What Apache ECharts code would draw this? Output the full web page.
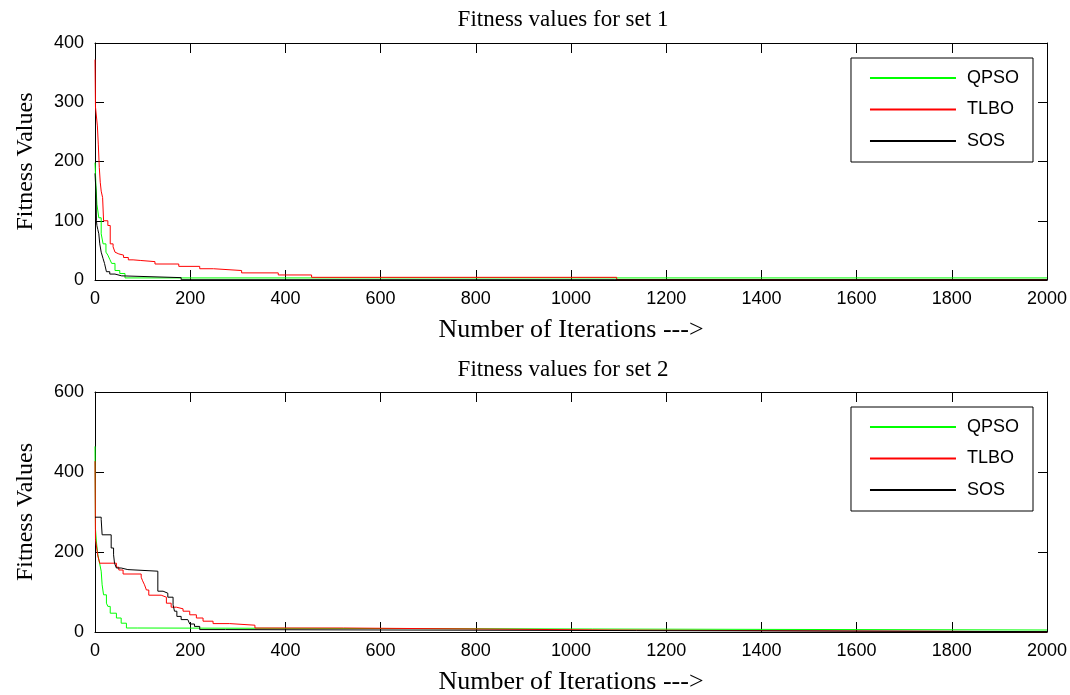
<!DOCTYPE html>
<html>
<head>
<meta charset="utf-8">
<script src="https://cdn.jsdelivr.net/npm/echarts@6/dist/echarts.min.js"></script>
<style>
html,body{margin:0;padding:0;background:#fff;}
#chart{width:1070px;height:695px;}
</style>
</head>
<body>
<div id="chart"></div>
<script>
// ---- data (iteration at which best value changes, new best value) ----
const seriesNames = ['QPSO', 'TLBO', 'SOS'];
const titles = ['Fitness values for set 1', 'Fitness values for set 2'];
const xTicks = [0, 200, 400, 600, 800, 1000, 1200, 1400, 1600, 1800, 2000];
const yTicksSet1 = [0, 100, 200, 300, 400];
const yTicksSet2 = [0, 200, 400, 600];

const qpso1 = [[0,198],[2,160],[4,128],[8,105],[13,78],[17,61],[23,47],[27,42],[31,35],[35,28],[42,16],[52,11],[63,3.5],[2000,3.5]];
const tlbo1 = [[0,372],[1,292],[5,260],[7,228],[9,190],[11,165],[13,150],[16,139],[18,100],[27,92],[32,61],[38,56],[42,47],[46,44],[50,42],[60,38],[70,34],[80,33],[95,31],[126,27],[176,23],[220,19],[249,16],[308,12],[385,8.5],[455,4.5],[1096,0.5],[2000,0.5]];
const sos1  = [[0,180],[2,150],[3,100],[4,92],[6,85],[8,78],[10,61],[13,47],[17,36],[20,28],[24,14],[31,10],[42,7],[56,4],[181,0.5],[2000,0.5]];

const qpso2 = [[0,464],[1,258],[3,225],[6,193],[10,170],[13,152],[15,118],[18,93],[24,72],[27,64],[32,47],[45,35],[55,22],[66,10],[90,5],[2000,5]];
const tlbo2 = [[0,427],[1,231],[3,215],[6,190],[10,172],[45,162],[50,155],[59,145],[97,137],[100,128],[104,118],[108,105],[113,92],[139,87],[150,72],[160,62],[171,58],[185,52],[199,43],[213,35],[227,27],[248,21],[283,17],[336,10],[522,5],[1086,0.5],[2000,0.5]];
const sos2  = [[0,287],[13,281],[15,243],[34,210],[39,193],[41,172],[45,160],[55,156],[69,152],[132,102],[143,97],[153,87],[164,68],[167,52],[172,39],[181,31],[195,27],[199,20],[209,14],[220,6],[274,1],[2000,1]];

const colors = ['#00ff00', '#ff0000', '#000000'];

const chart = echarts.init(document.getElementById('chart'), null, {renderer: 'canvas'});

const serif = '"Liberation Serif", "Times New Roman", serif';
const sans = '"Liberation Sans", Arial, sans-serif';

const grids = [
  {left: 95, right: 23, top: 43, height: 237, outerBoundsMode: 'none', containLabel: false},
  {left: 95, right: 23, top: 392, height: 240, outerBoundsMode: 'none', containLabel: false}
];

const plain = function (v) { return String(v); };

function xAxes(gi) {
  return [
    {
      type: 'value', gridIndex: gi, position: 'bottom',
      min: xTicks[0], max: xTicks[xTicks.length - 1], interval: xTicks[1] - xTicks[0],
      axisLine: {show: true, onZero: false, lineStyle: {color: '#000', width: 1}},
      axisTick: {show: true, inside: true, length: 10, lineStyle: {color: '#000'}},
      axisLabel: {color: '#000', fontFamily: sans, fontSize: 18, margin: 10, formatter: plain},
      splitLine: {show: false},
      name: 'Number of Iterations --->', nameLocation: 'middle', nameGap: 37,
      nameTextStyle: {color: '#000', fontFamily: serif, fontSize: 26}
    },
    {
      type: 'value', gridIndex: gi, position: 'top',
      min: xTicks[0], max: xTicks[xTicks.length - 1], interval: xTicks[1] - xTicks[0],
      axisLine: {show: true, onZero: false, lineStyle: {color: '#000', width: 1}},
      axisTick: {show: true, inside: true, length: 10, lineStyle: {color: '#000'}},
      axisLabel: {show: false}, splitLine: {show: false}
    }
  ];
}

function yAxes(gi, ticks) {
  const common = {
    type: 'value', gridIndex: gi,
    min: ticks[0], max: ticks[ticks.length - 1], interval: ticks[1] - ticks[0],
    axisLine: {show: true, onZero: false, lineStyle: {color: '#000', width: 1}},
    axisTick: {show: true, inside: true, length: 9, lineStyle: {color: '#000'}},
    splitLine: {show: false}
  };
  return [
    Object.assign({}, common, {
      position: 'left',
      axisLabel: {color: '#000', fontFamily: sans, fontSize: 18, margin: 11, formatter: plain},
      name: 'Fitness Values', nameLocation: 'middle', nameGap: 57, nameRotate: 90,
      nameTextStyle: {color: '#000', fontFamily: serif, fontSize: 24}
    }),
    Object.assign({}, common, {position: 'right', axisLabel: {show: false}})
  ];
}

function makeSeries(name, data, gi, ci) {
  return {
    name: name, type: 'line', data: data, step: 'end',
    xAxisIndex: gi * 2, yAxisIndex: gi * 2,
    symbol: 'none', showSymbol: false,
    lineStyle: {color: colors[ci], width: 1},
    itemStyle: {color: colors[ci]},
    emphasis: {disabled: true}
  };
}

function legend(top) {
  return {
    data: seriesNames, orient: 'vertical', right: 37, top: top,
    padding: [11, 14, 12, 18], itemWidth: 86, itemHeight: 18, itemGap: 13.5,
    borderColor: '#000', borderWidth: 1, backgroundColor: '#fff',
    itemStyle: {opacity: 0},
    textStyle: {color: '#000', fontFamily: sans, fontSize: 18, padding: [0, 0, 0, 6]},
    selectedMode: false
  };
}

chart.setOption({
  animation: false,
  backgroundColor: '#fff',
  title: [
    {text: titles[0], left: 558, top: 3, textAlign: 'center',
     textStyle: {color: '#000', fontFamily: serif, fontSize: 23, fontWeight: 'normal'}},
    {text: titles[1], left: 558, top: 353, textAlign: 'center',
     textStyle: {color: '#000', fontFamily: serif, fontSize: 23, fontWeight: 'normal'}}
  ],
  legend: [legend(58), legend(407)],
  grid: grids,
  xAxis: xAxes(0).concat(xAxes(1)),
  yAxis: yAxes(0, yTicksSet1).concat(yAxes(1, yTicksSet2)),
  series: [
    makeSeries(seriesNames[0], qpso1, 0, 0),
    makeSeries(seriesNames[1], tlbo1, 0, 1),
    makeSeries(seriesNames[2], sos1, 0, 2),
    makeSeries(seriesNames[0], qpso2, 1, 0),
    makeSeries(seriesNames[1], tlbo2, 1, 1),
    makeSeries(seriesNames[2], sos2, 1, 2)
  ]
});
</script>
</body>
</html>
